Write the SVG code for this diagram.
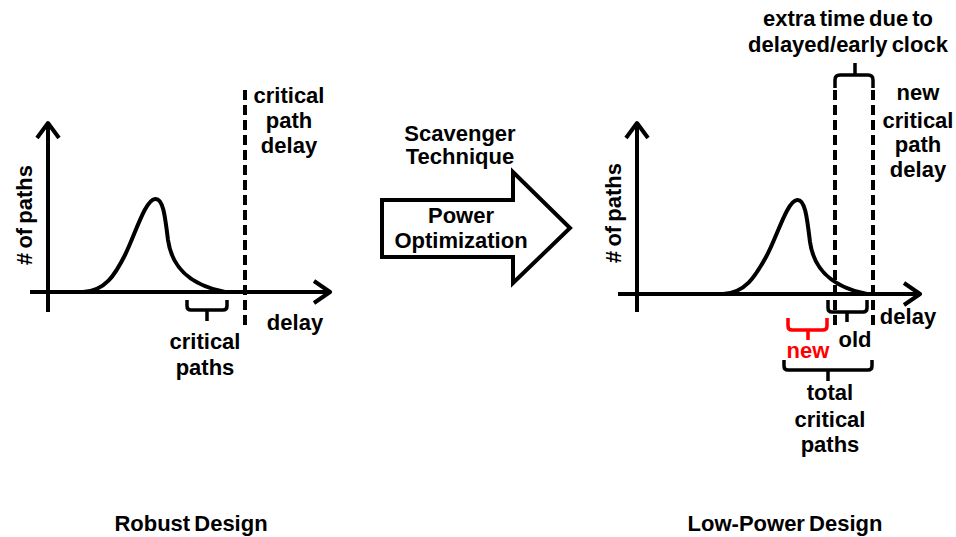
<svg xmlns="http://www.w3.org/2000/svg" width="956" height="537" viewBox="0 0 956 537">
<style>
text{font-family:"Liberation Sans",Arial,sans-serif;font-weight:bold;font-size:22px;fill:#000;text-anchor:middle;word-spacing:-2px}
.ln{fill:none;stroke:#000;stroke-width:4;stroke-linecap:butt;stroke-linejoin:round}
.br{fill:none;stroke:#000;stroke-width:3.5;stroke-linejoin:round}
.dash{fill:none;stroke:#000;stroke-width:4;stroke-dasharray:10,5}
.red{fill:none;stroke:#ff0000;stroke-width:3.5;stroke-linejoin:round}
</style>
<rect width="956" height="537" fill="#fff"/>

<g id="robust-graph">
  <path class="ln" d="M48,312 V123 M37,138 L48,123 L59,138"/>
  <path class="ln" d="M30,292 H330 M314,281 L330,292 L314,303"/>
  <path class="ln" d="M83,292 C105,291 115,275 125,255 C135,235 145,200 155,199 C163,198 165,215 168,240 C172,268 190,285 225,292"/>
  <path class="dash" d="M245,90 V327"/>
  <path class="br" d="M187,300 V306 Q187,310 191,310 H223 Q227,310 227,306 V300 M207,310 V321"/>
  <text x="25" y="215" transform="rotate(-90 25 215)" dy="7"># of paths</text>
  <text x="289" y="103">critical</text>
  <text x="289" y="128">path</text>
  <text x="289" y="153">delay</text>
  <text x="295" y="330">delay</text>
  <text x="205" y="349">critical</text>
  <text x="205" y="375">paths</text>
</g>

<g id="scavenger-arrow">
  <path d="M382,200 H513 V172 L570,228 L513,283 V257 H382 Z" fill="#fff" stroke="#000" stroke-width="4" stroke-linejoin="miter"/>
  <text x="460" y="141">Scavenger</text>
  <text x="460" y="164">Technique</text>
  <text x="461" y="223">Power</text>
  <text x="461" y="248">Optimization</text>
</g>

<g id="lowpower-graph">
  <path class="ln" d="M637,312 V123 M626,138 L637,123 L648,138"/>
  <path class="ln" d="M618,294 H920 M904,283 L920,294 L904,305"/>
  <path class="ln" d="M723,294 C745,293 755,277 766,257 C777,237 787,201 797,200 C805,199 807,217 810,242 C814,270 832,287 867,294"/>
  <path class="br" d="M835,88 V80 Q835,75 840,75 H868 Q873,75 873,80 V88 M855,75 V63"/>
  <path class="dash" d="M835,90 V325 M873,90 V325"/>
  <path class="br" d="M828,300 V308 Q828,312 832,312 H863 Q867,312 867,308 V300 M847,312 V322"/>
  <path class="red" d="M788,318 V326 Q788,330 792,330 H823 Q827,330 827,326 V318 M808,330 V340"/>
  <path class="br" d="M784,360 V366 Q784,370 788,370 H868 Q872,370 872,366 V360 M828,370 V381"/>
  <text x="614" y="213" transform="rotate(-90 614 213)" dy="7"># of paths</text>
  <text x="848" y="26">extra time due to</text>
  <text x="848" y="52">delayed/early clock</text>
  <text x="918" y="100">new</text>
  <text x="918" y="128">critical</text>
  <text x="918" y="152">path</text>
  <text x="918" y="177">delay</text>
  <text x="908" y="324">delay</text>
  <text x="855" y="347">old</text>
  <text x="808" y="358" style="fill:#ff0000">new</text>
  <text x="830" y="400">total</text>
  <text x="830" y="427">critical</text>
  <text x="830" y="452">paths</text>
</g>

<g id="captions">
  <text x="191" y="531">Robust Design</text>
  <text x="785" y="531">Low-Power Design</text>
</g>
</svg>
